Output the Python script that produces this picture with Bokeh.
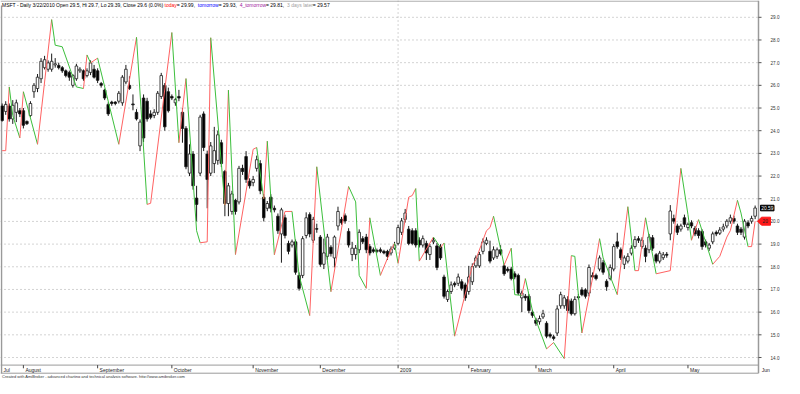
from bokeh.plotting import figure
from bokeh.models import Range1d, ColumnDataSource
from bokeh.core.properties import value
from bokeh.embed import file_html
from bokeh.resources import INLINE

# ---------------- data ----------------
opens = [25.09, 24.85, 25.09, 24.52, 24.81, 24.88, 24.88, 24.41, 24.67, 25.72,
         25.86, 26.29, 26.78, 26.71, 26.71, 26.9, 26.88, 26.78, 26.64, 26.57,
         26.0, 26.29, 26.64, 26.64, 26.43, 26.57, 26.71, 26.64, 26.08, 25.79,
         25.16, 25.26, 25.26, 25.3, 25.23, 26.15, 26.0, 25.18, 24.81, 23.33,
         25.44, 25.3, 24.74, 24.67, 24.81, 25.51, 26.0, 25.72, 25.51, 25.23,
         25.51, 24.81, 24.1, 22.13, 22.97, 21.03, 22.13, 24.74, 22.97, 22.13,
         22.55, 22.69, 23.47, 22.2, 20.79, 20.44, 20.93, 20.86, 22.34, 22.86,
         21.78, 21.71, 22.34, 22.55, 21.07, 20.58, 21.07, 20.58, 20.23, 19.45,
         20.16, 19.03, 18.96, 19.1, 17.62, 17.62, 19.38, 20.3, 19.17, 19.68,
         19.31, 18.11, 18.46, 18.86, 18.39, 19.8, 20.09, 20.25, 19.56, 18.54,
         18.54, 18.75, 19.24, 19.31, 18.89, 18.75, 18.72, 18.75, 18.68, 18.68,
         18.61, 18.82, 19.03, 19.52, 20.09, 19.66, 19.59, 19.59, 19.17, 18.96,
         19.03, 18.54, 19.1, 18.92, 18.89, 17.55, 16.56, 16.91, 17.27, 17.27,
         17.34, 17.2, 16.91, 17.34, 18.04, 18.04, 18.68, 19.03, 18.68, 18.39,
         18.46, 18.75, 18.04, 17.9, 17.9, 17.69, 17.62, 16.63, 16.7, 16.7,
         16.0, 15.65, 15.58, 15.79, 15.51, 15.01, 14.91, 15.08, 16.28, 16.28,
         16.56, 16.49, 15.93, 16.68, 16.98, 16.98, 16.84, 17.62, 17.62, 17.9,
         18.18, 17.36, 17.48, 17.9, 19.1, 18.75, 18.11, 18.25, 18.6, 18.89,
         19.24, 18.89, 18.82, 18.75, 19.28, 18.53, 18.25, 18.4, 18.55, 19.45,
         20.13, 19.8, 19.66, 20.16, 19.73, 19.94, 19.7, 19.59, 19.56, 19.1,
         18.82, 19.1, 19.52, 19.48, 19.66, 19.8, 20.01, 20.13, 19.8, 19.66,
         19.31, 19.94, 20.01, 20.23]
highs = [25.2, 25.3, 25.2, 25.35, 25.37, 25.0, 25.0, 24.45, 25.3, 26.1,
         26.5, 27.2, 27.3, 27.1, 27.4, 27.2, 27.0, 26.85, 26.7, 26.65,
         26.5, 26.95, 26.8, 26.7, 26.75, 27.1, 26.9, 26.75, 26.15, 25.85,
         25.25, 25.32, 25.3, 25.75, 26.45, 26.9, 26.4, 25.6, 24.95, 24.5,
         25.6, 25.45, 24.9, 24.95, 25.75, 26.55, 26.1, 25.9, 25.6, 25.45,
         25.8, 25.0, 24.2, 23.4, 23.1, 21.57, 24.7, 24.85, 23.12, 23.5,
         24.17, 24.0, 23.6, 22.27, 21.7, 21.35, 21.0, 22.45, 22.5, 23.1,
         21.9, 22.0, 22.9, 22.7, 21.2, 20.9, 21.2, 20.7, 20.35, 20.6,
         20.3, 19.15, 19.2, 19.2, 17.75, 19.35, 20.4, 20.4, 20.2, 19.9,
         19.4, 19.24, 19.45, 18.95, 19.38, 20.65, 20.2, 20.35, 19.7, 19.1,
         18.96, 19.65, 19.35, 19.45, 19.0, 18.85, 18.8, 18.85, 18.75, 18.75,
         18.9, 19.1, 19.85, 20.15, 20.55, 19.8, 19.7, 19.7, 19.3, 19.38,
         19.15, 19.0, 19.3, 19.05, 19.0, 17.65, 17.0, 17.35, 17.35, 17.7,
         17.45, 17.3, 18.04, 18.15, 18.5, 18.65, 19.25, 19.3, 19.15, 18.9,
         18.85, 18.95, 18.15, 18.0, 18.0, 17.8, 17.7, 16.95, 16.8, 16.8,
         16.1, 15.75, 15.85, 16.1, 15.6, 15.1, 15.0, 16.3, 16.9, 16.75,
         16.7, 16.6, 16.7, 16.8, 17.1, 17.05, 18.1, 17.75, 17.7, 18.5,
         18.3, 17.45, 18.1, 19.0, 19.5, 18.85, 18.5, 18.6, 18.95, 19.35,
         19.35, 19.3, 18.95, 19.45, 19.4, 18.6, 18.7, 18.65, 18.65, 20.72,
         20.3, 19.9, 19.9, 20.3, 19.95, 20.05, 19.8, 19.7, 19.65, 19.2,
         19.05, 19.55, 19.6, 19.75, 19.9, 20.1, 20.3, 20.25, 19.9, 19.75,
         20.1, 20.05, 20.25, 20.7]
lows = [24.4, 24.7, 24.4, 24.3, 24.38, 24.6, 24.1, 24.25, 24.6, 25.45,
        25.7, 26.1, 26.7, 26.6, 26.6, 26.78, 26.7, 26.55, 26.35, 26.2,
        25.9, 26.2, 26.55, 26.2, 26.35, 26.45, 26.3, 26.1, 25.9, 25.35,
        24.65, 25.1, 25.12, 25.2, 25.1, 26.05, 25.8, 24.9, 24.45, 23.1,
        23.5, 24.4, 24.5, 24.55, 24.7, 25.4, 24.0, 24.8, 25.35, 25.1,
        25.3, 23.47, 22.3, 22.0, 21.4, 20.0, 22.0, 23.1, 20.58, 22.0,
        22.13, 22.5, 22.4, 20.23, 20.23, 20.3, 20.3, 20.75, 22.05, 21.7,
        21.45, 21.55, 22.2, 21.2, 20.0, 20.45, 20.4, 20.4, 19.45, 18.18,
        19.25, 18.55, 18.85, 17.65, 16.95, 17.5, 19.25, 19.3, 19.05, 19.5,
        18.0, 17.9, 18.3, 18.45, 17.97, 19.6, 19.85, 19.9, 18.85, 18.25,
        18.32, 18.6, 19.0, 18.6, 18.5, 18.6, 18.6, 18.6, 18.55, 18.3,
        18.5, 18.75, 18.95, 19.4, 19.95, 18.95, 18.95, 18.85, 18.85, 18.85,
        18.3, 18.3, 19.0, 17.85, 18.3, 16.6, 16.45, 16.8, 17.1, 17.15,
        16.95, 16.5, 16.77, 17.2, 17.95, 17.95, 18.55, 18.95, 18.15, 18.3,
        18.35, 18.5, 17.6, 17.75, 17.4, 17.45, 16.75, 16.0, 16.5, 15.95,
        15.75, 15.4, 15.45, 15.7, 14.85, 14.85, 14.75, 14.95, 16.15, 16.15,
        15.95, 15.85, 15.85, 16.55, 16.7, 16.6, 16.7, 17.45, 17.4, 17.8,
        17.65, 16.94, 17.4, 17.8, 18.8, 18.3, 17.9, 18.15, 18.5, 18.8,
        19.05, 18.8, 18.2, 18.6, 18.7, 18.15, 18.15, 18.3, 18.4, 19.17,
        19.9, 19.4, 19.55, 19.75, 19.6, 19.7, 19.35, 19.25, 18.75, 18.85,
        18.7, 19.0, 19.35, 19.4, 19.55, 19.7, 19.9, 19.9, 19.4, 19.4,
        19.2, 19.7, 19.9, 20.1]
closes = [24.45, 25.16, 24.52, 25.12, 25.23, 24.74, 24.24, 24.31, 25.2, 26.0,
          26.36, 27.06, 27.13, 26.99, 27.06, 26.95, 26.78, 26.64, 26.43, 26.36,
          26.43, 26.85, 26.71, 26.29, 26.64, 26.99, 26.36, 26.22, 26.0, 25.44,
          24.74, 25.2, 25.2, 25.65, 26.36, 26.71, 25.86, 25.14, 24.52, 24.38,
          23.68, 24.52, 24.59, 24.81, 25.65, 26.43, 24.17, 24.88, 25.44, 25.37,
          25.44, 24.1, 22.41, 22.97, 21.57, 20.75, 24.6, 23.26, 21.85, 23.33,
          23.12, 23.82, 22.55, 20.79, 21.57, 21.21, 20.44, 22.34, 22.2, 21.85,
          21.57, 21.85, 22.72, 21.35, 20.16, 20.79, 20.58, 20.51, 19.59, 20.51,
          19.38, 18.68, 19.1, 17.76, 17.05, 19.24, 20.16, 19.45, 20.09, 19.66,
          18.11, 18.61, 19.31, 18.58, 19.31, 20.44, 19.94, 20.02, 18.96, 18.82,
          18.82, 19.52, 19.1, 18.75, 18.61, 18.68, 18.68, 18.68, 18.61, 18.46,
          18.78, 18.96, 19.73, 20.02, 20.37, 19.03, 19.03, 18.96, 18.96, 19.24,
          18.61, 18.89, 19.17, 17.97, 18.39, 16.7, 16.91, 17.2, 17.2, 17.55,
          17.05, 16.63, 17.55, 18.01, 18.39, 18.54, 19.1, 19.17, 18.25, 18.75,
          18.75, 18.58, 17.69, 17.83, 17.48, 17.55, 16.84, 16.84, 16.63, 16.07,
          15.86, 15.51, 15.72, 15.93, 14.94, 14.94, 14.84, 16.14, 16.77, 16.63,
          16.07, 15.93, 16.56, 16.64, 16.77, 16.7, 17.97, 17.55, 17.48, 18.39,
          17.76, 17.12, 17.97, 18.89, 18.89, 18.39, 18.39, 18.46, 18.82, 19.2,
          19.17, 19.17, 18.46, 19.31, 18.82, 18.25, 18.6, 18.53, 18.51, 20.46,
          20.01, 19.52, 19.8, 19.87, 19.87, 19.8, 19.45, 19.38, 18.89, 18.96,
          18.96, 19.45, 19.45, 19.62, 19.76, 20.01, 20.16, 20.01, 19.52, 19.52,
          20.01, 19.8, 20.13, 20.59]

# red/green forecast line: vertices (bar index, value)
line_bars = [0, 1, 2, 3, 5, 6, 10, 14, 15, 17, 21, 23, 24, 25, 27, 33, 38, 41, 42,
             48, 50, 52, 55, 56, 58, 59, 63, 64, 66, 71, 72, 74, 75, 77, 80, 82,
             84, 87, 89, 93, 98, 100, 101, 103, 104, 107, 110, 111, 112, 115, 116,
             117, 118, 122, 124, 125, 128, 133, 134, 137, 138, 139, 142, 144, 145,
             147, 148, 150, 154, 156, 159, 161, 162, 164, 168, 169, 170, 174, 177,
             179, 180, 182, 185, 189, 192, 194, 195, 197, 201, 203, 205, 206, 208,
             209, 211, 212, 213]
line_values = [23.12, 23.12, 25.93, 24.67, 23.68, 25.72, 23.4, 28.9, 27.77, 27.7,
               25.93, 25.86, 27.34, 26.99, 27.2, 23.4, 28.12, 20.75, 20.8,
               28.33, 23.47, 26.3, 19.59, 19.06, 19.1, 28.1, 20.72, 25.79, 18.54,
               23.18, 23.26, 21.0, 23.54, 18.53, 20.44, 20.44,
               17.62, 15.85, 22.41, 16.9, 21.54, 20.86, 17.62, 17.05, 20.16, 17.62,
               18.75, 19.03, 18.15, 21.07, 21.14,
               21.45, 18.25, 19.31, 18.85, 19.05, 14.94, 18.04, 18.32, 19.59, 19.73,
               20.23, 18.07, 18.82, 16.77,
               16.74, 17.48, 16.07, 14.38, 14.66, 13.95, 18.49, 18.46, 15.08, 18.3,
               19.24, 18.39, 16.77, 20.65,
               17.83, 17.83, 20.16, 17.69, 17.83, 22.34, 20.3, 19.17, 20.08, 18.11,
               18.46, 19.31, 19.6, 20.93,
               20.37, 18.89, 18.89, 20.01]

price_ticks = [14, 15, 16, 17, 18, 19, 20, 21, 22, 23, 24, 25, 26, 27, 28, 29]
month_labels = ["August", "September", "October", "November", "December", "2009",
                "February", "March", "April", "May"]
month_bars = [6, 27, 48, 71, 90, 112, 132, 151, 173, 194]
first_label = "Jul"
next_label = "Jun"
next_bar = 214
line_last_text = "20"

title_parts = ["MSFT - Daily 3/22/2010 Open 29.5, Hi 29.7, Lo 29.39, Close 29.6 (0.0%) ",
               "today", " = 29.99, ", "tomorrow", " = 29.93, ", "4_tomorrow",
               " = 29.81, ", "3 days later", " = 29.57"]
title_colors = ["#000000", "#ff0000", "#000000", "#0000ff", "#000000", "#a020a0",
                "#000000", "#a0a0a0", "#000000"]
footer = ("Created with AmiBroker - advanced charting and technical analysis "
          "software. http://www.amibroker.com")

# ---------------- layout geometry (pixels) ----------------
W, H = 784, 378
AXIS_X = 758            # right price-axis line
X0_PX, PX_BAR = 1.67, 3.535
Y29_PX, PX_UNIT = 16.8, 22.68
STRIP_TOP, STRIP_BOT = 364.6, 372.7
FONT = "Liberation Sans"
RED, GREEN = "#ff6262", "#3cbf3c"
FRAME_COL = "#9a9a9a"


def bx(px):
    return (px - X0_PX) / PX_BAR


def py(px):
    return 29.0 - (px - Y29_PX) / PX_UNIT


ARIAL = {' ': 278, '%': 889, '(': 333, ')': 333, ',': 278, '-': 333, '.': 278,
         '/': 278, ':': 278, '=': 584, '_': 556,
         'A': 667, 'B': 667, 'C': 722, 'D': 722, 'E': 667, 'F': 611, 'H': 722,
         'L': 556, 'M': 833, 'O': 778, 'S': 667, 'T': 611,
         'a': 556, 'b': 556, 'c': 500, 'd': 556, 'e': 556, 'f': 278, 'g': 556,
         'h': 556, 'i': 222, 'k': 500, 'l': 222, 'm': 833, 'n': 556, 'o': 556,
         'p': 556, 'r': 333, 's': 500, 't': 278, 'u': 556, 'v': 500, 'w': 722,
         'y': 500, 'z': 500}


def text_w(s, size):
    return sum(ARIAL.get(ch, 556) for ch in s) / 1000.0 * size


p = figure(width=W, height=H, output_backend="svg", toolbar_location=None,
           x_range=Range1d(bx(0), bx(W)), y_range=Range1d(py(H), py(0)),
           x_axis_location=None, y_axis_location=None,
           min_border_left=0, min_border_right=0,
           min_border_top=0, min_border_bottom=0)
p.outline_line_color = None
p.grid.visible = False
p.background_fill_color = "white"
p.border_fill_color = "white"

n_t = len(price_ticks)
# horizontal dotted grid (stops at the price axis)
p.segment(x0=[bx(0)] * n_t, x1=[bx(AXIS_X)] * n_t, y0=price_ticks, y1=price_ticks,
          line_color="#a8a8a8", line_dash="1 3", line_width=1)

# year boundary dotted line
p.segment(x0=[month_bars[5]], y0=[py(0)], x1=[month_bars[5]], y1=[py(STRIP_TOP)],
          line_color="#a8a8a8", line_dash="1 3", line_width=1)

# frame lines
p.segment(x0=[bx(0)] * 3, x1=[bx(AXIS_X)] * 3,
          y0=[py(0.6), py(STRIP_TOP), py(STRIP_BOT)],
          y1=[py(0.6), py(STRIP_TOP), py(STRIP_BOT)],
          line_color=FRAME_COL, line_width=1)
p.segment(x0=[bx(1.0)], x1=[bx(1.0)], y0=[py(5)], y1=[py(STRIP_BOT)],
          line_color=FRAME_COL, line_width=1.5)

# right price axis: line, ticks, labels
p.segment(x0=[bx(AXIS_X)], x1=[bx(AXIS_X)], y0=[py(0)], y1=[py(STRIP_BOT)],
          line_color=FRAME_COL, line_width=1.5)
p.segment(x0=[bx(AXIS_X)] * n_t, x1=[bx(AXIS_X + 3)] * n_t, y0=price_ticks, y1=price_ticks,
          line_color="#555555", line_width=1)
p.text(x=[bx(AXIS_X + 12)] * n_t, y=price_ticks, text=["%.1f" % t for t in price_ticks],
       text_font=value(FONT), text_font_size=value("4.6px"), text_color="#333333",
       text_align="left", text_baseline="middle")

# candles
n = len(opens)
src = ColumnDataSource(dict(
    x=list(range(n)),
    top=[max(o, c) for o, c in zip(opens, closes)],
    bottom=[min(o, c) for o, c in zip(opens, closes)],
    high=highs, low=lows,
    fill=["white" if c >= o else "black" for o, c in zip(opens, closes)]))
p.segment(x0="x", y0="high", x1="x", y1="low", source=src,
          line_color="#1a1a1a", line_width=1)
p.vbar(x="x", width=0.72, top="top", bottom="bottom", source=src,
       fill_color="fill", line_color="#1a1a1a", line_width=0.8)

# red / green line
seg_col = [RED if b >= a else GREEN
           for a, b in zip(line_values[:-1], line_values[1:])]
p.segment(x0=line_bars[:-1], y0=line_values[:-1], x1=line_bars[1:], y1=line_values[1:],
          line_color=seg_col, line_width=1)

# month ticks and labels
p.segment(x0=month_bars, x1=month_bars, y0=[py(STRIP_TOP)] * len(month_bars),
          y1=[py(STRIP_TOP + 3.2)] * len(month_bars), line_color="#444444", line_width=1)
p.text(x=[m + 2.0 / PX_BAR for m in month_bars] + [bx(3), next_bar + 3.0 / PX_BAR],
       y=[py(369.0)] * (len(month_bars) + 2),
       text=month_labels + [first_label, next_label],
       text_font=value(FONT), text_font_size=value("5px"), text_color="#222222",
       text_align="left", text_baseline="middle")

# title
tx, x_acc = [], 1.5
for part in title_parts:
    tx.append(bx(x_acc))
    x_acc += text_w(part, 5.0)
p.text(x=tx, y=[py(4.4)] * len(title_parts), text=title_parts,
       text_color=title_colors, text_font=value(FONT), text_font_size=value("5px"),
       text_align="left", text_baseline="middle")

# footer
p.text(x=[bx(1.5)], y=[py(375.8)], text=[footer], text_font=value(FONT),
       text_font_size=value("4px"), text_color="#333333",
       text_align="left", text_baseline="middle")

# last-close box (black) and line-value marker (red arrow)
last_txt = "%.2f" % closes[-1]
box_h = 5.6 / PX_UNIT
p.quad(left=[bx(AXIS_X + 2)], right=[bx(AXIS_X + 3.5 + text_w(last_txt, 4.8))],
       top=[closes[-1] + box_h / 2], bottom=[closes[-1] - box_h / 2],
       fill_color="black", line_color="black")
p.text(x=[bx(AXIS_X + 2.8)], y=[closes[-1]], text=[last_txt], text_font=value(FONT),
       text_font_size=value("4.8px"), text_color="white",
       text_align="left", text_baseline="middle")

yv = line_values[-1]
hh = 4.0 / PX_UNIT
p.patch(x=[bx(AXIS_X - 1), bx(AXIS_X + 3), bx(AXIS_X + 12), bx(AXIS_X + 12), bx(AXIS_X + 3)],
        y=[yv, yv + hh, yv + hh, yv - hh, yv - hh],
        fill_color="#ff1a1a", line_color="#ff1a1a")
p.text(x=[bx(AXIS_X + 4)], y=[yv], text=[line_last_text], text_font=value(FONT),
       text_font_size=value("4.8px"), text_color="#222222",
       text_align="left", text_baseline="middle")

open("out.html", "w").write(file_html(p, INLINE))
